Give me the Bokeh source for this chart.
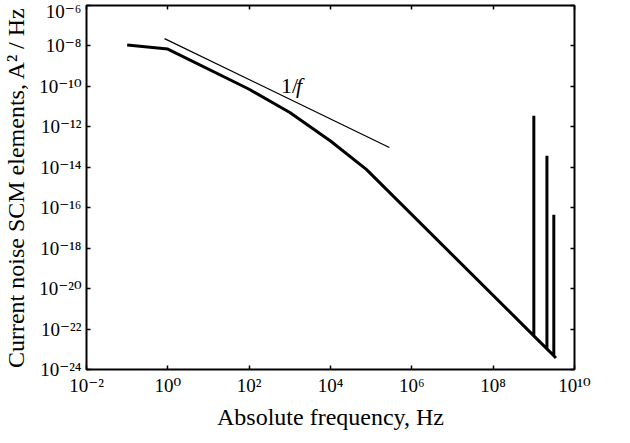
from bokeh.plotting import figure
from bokeh.models import LogAxis, FixedTicker, CustomJSTickFormatter, Label
from bokeh.embed import file_html
from bokeh.resources import INLINE

# ---- data ----
freq = [0.1, 1, 100, 1000, 1e4, 7.6e4, 1e9, 1e9, 1e9, 2.1e9, 2.1e9, 2.1e9,
        3.1e9, 3.1e9, 3.1e9, 3.5e9]
noise = [1.1e-8, 7e-9, 7.2e-11, 5.1e-12, 2.0e-13, 7.9e-15, 4.6e-23, 3.5e-12,
         4.6e-23, 1.05e-23, 3.7e-14, 1.05e-23, 4.8e-24, 4.5e-17, 4.8e-24, 3.7e-24]

ref_freq = [0.83, 2.8e5]
ref_noise = [2.3e-8, 9.5e-14]

x_ticks = [1e-2, 1e0, 1e2, 1e4, 1e6, 1e8, 1e10]
x_tick_labels = ["10\u207b\u00b2", "10\u2070", "10\u00b2", "10\u2074",
                 "10\u2076", "10\u2078", "10\u00b9\u2070"]
y_ticks = [1e-24, 1e-22, 1e-20, 1e-18, 1e-16, 1e-14, 1e-12, 1e-10, 1e-8, 1e-6]
y_tick_labels = ["10\u207b\u00b2\u2074", "10\u207b\u00b2\u00b2", "10\u207b\u00b2\u2070",
                 "10\u207b\u00b9\u2078", "10\u207b\u00b9\u2076", "10\u207b\u00b9\u2074",
                 "10\u207b\u00b9\u00b2", "10\u207b\u00b9\u2070", "10\u207b\u2078",
                 "10\u207b\u2076"]

FONT = "Liberation Serif"
TICK_FONT = "'Liberation Serif', 'DejaVu Serif'"

p = figure(frame_width=488, frame_height=364, x_axis_type="log", y_axis_type="log",
           x_range=(1e-2, 1e10), y_range=(1e-24, 1e-6),
           output_backend="svg", toolbar_location=None,
           min_border_left=86, min_border_right=38,
           min_border_top=5, min_border_bottom=56)
p.background_fill_color = "white"
p.border_fill_color = "white"
p.outline_line_color = "black"
p.outline_line_width = 2
p.xgrid.visible = False
p.ygrid.visible = False

code = """
let best = 0, bd = Infinity;
for (let i = 0; i < vals.length; i++) {
  const d = Math.abs(Math.log10(vals[i]) - Math.log10(tick));
  if (d < bd) { bd = d; best = i; }
}
return labs[best];
"""


def style(ax):
    ax.axis_line_color = None
    ax.major_tick_in = 4
    ax.major_tick_out = 0
    ax.major_tick_line_width = 1.5
    ax.major_tick_line_color = "black"
    ax.minor_tick_line_color = None
    ax.major_label_text_font = TICK_FONT
    ax.major_label_text_font_size = "19px"
    ax.major_label_text_color = "black"
    ax.axis_label_text_font = FONT
    ax.axis_label_text_font_size = "24px"
    ax.axis_label_text_font_style = "normal"
    ax.axis_label_text_color = "black"


def blank_style(ax):
    style(ax)
    ax.major_label_text_font_size = "0px"
    ax.major_label_standoff = 0
    ax.axis_label_standoff = 0


xa = p.xaxis[0]
xa.ticker = FixedTicker(ticks=x_ticks)
xa.formatter = CustomJSTickFormatter(args=dict(vals=x_ticks, labs=x_tick_labels), code=code)
xa.axis_label = "Absolute frequency, Hz"
style(xa)
xa.major_label_standoff = 5
xa.axis_label_standoff = 5

ya = p.yaxis[0]
ya.ticker = FixedTicker(ticks=y_ticks)
ya.formatter = CustomJSTickFormatter(args=dict(vals=y_ticks, labs=y_tick_labels), code=code)
ya.axis_label = "Current noise SCM elements, A² / Hz"
style(ya)
ya.major_label_standoff = 5
ya.axis_label_standoff = 7

top = LogAxis(ticker=FixedTicker(ticks=x_ticks),
              formatter=CustomJSTickFormatter(code="return ''"))
blank_style(top)
p.add_layout(top, "above")
right = LogAxis(ticker=FixedTicker(ticks=y_ticks),
                formatter=CustomJSTickFormatter(code="return ''"))
blank_style(right)
p.add_layout(right, "right")

p.line(freq, noise, line_color="black", line_width=3, line_join="bevel")
p.line(ref_freq, ref_noise, line_color="black", line_width=1.2)

p.add_layout(Label(x=610, y=1.15e-10, text="1/", text_font=FONT,
                   text_font_size="22px", text_baseline="alphabetic",
                   text_color="black"))
p.add_layout(Label(x=610, y=1.15e-10, x_offset=15, text="f", text_font=FONT,
                   text_font_size="22px", text_font_style="italic",
                   text_baseline="alphabetic", text_color="black"))

open("out.html", "w").write(file_html(p, INLINE))
